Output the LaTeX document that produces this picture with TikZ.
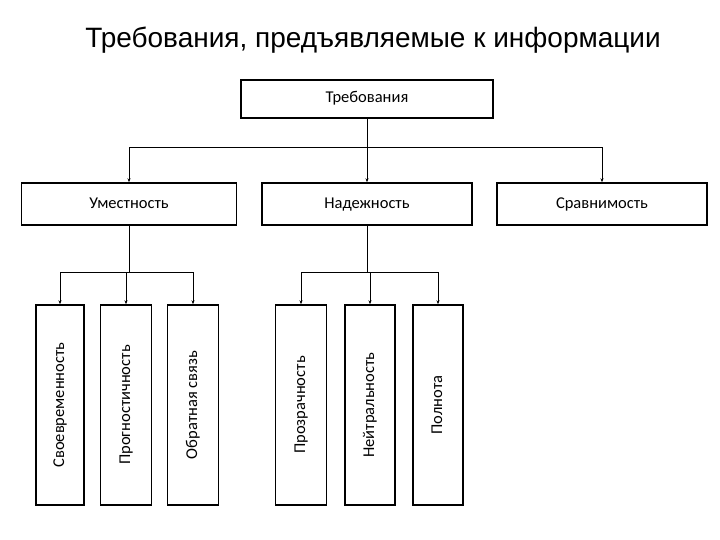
\documentclass[tikz,border=0pt]{standalone}
\usepackage{fontspec}
\usetikzlibrary{arrows.meta}
\setmainfont{Carlito}
\newfontfamily\titlefont{Liberation Sans}
\begin{document}
\begin{tikzpicture}[x=1pt,y=-1pt,
  bx/.style={draw,line width=1.4pt,inner sep=0pt},
  lbl/.style={font=\fontsize{16.5}{18}\selectfont,text height=11pt,text depth=3pt},
  con/.style={line width=0.8pt,-{Stealth[length=4pt,width=3pt]}}]
\useasboundingbox (0,0) rectangle (720,540);
\node[font=\titlefont\fontsize{28}{32}\selectfont] (title) at (373,40) {Требования, предъявляемые к информации};
\node[bx,minimum width=252pt,minimum height=38pt,lbl] (req) at (367,99) {Требования};
\node[bx,minimum width=215pt,minimum height=42pt,lbl] (u) at (129,204) {Уместность};
\node[bx,minimum width=210pt,minimum height=42pt,lbl] (n) at (367,204) {Надежность};
\node[bx,minimum width=210pt,minimum height=42pt,lbl] (s) at (602,204) {Сравнимость};
\foreach \nm/\x/\w/\t in {a/60/48/Своевременность,b/126/51/Прогностичность,c/193/51/Обратная связь,d/301/51/Прозрачность,e/370/50/Нейтральность,f/438/50/Полнота}{
  \node[bx,minimum width=\w pt,minimum height=200pt] (\nm) at (\x,405) {};
  \node[lbl,rotate=90] at (\x,405) {\t};
}
\coordinate (h1) at (367,147);
\draw[line width=0.8pt] (req.south) -- (h1);
\draw[con] (h1) -| (u.north);
\draw[con] (h1) -- (n.north);
\draw[con] (h1) -| (s.north);
\coordinate (h2) at (129,272);
\draw[line width=0.8pt] (u.south) -- (h2);
\draw[con] (h2) -| (a.north);
\draw[con] (h2) -| (b.north);
\draw[con] (h2) -| (c.north);
\coordinate (h3) at (367,272);
\draw[line width=0.8pt] (n.south) -- (h3);
\draw[con] (h3) -| (d.north);
\draw[con] (h3) -| (e.north);
\draw[con] (h3) -| (f.north);
\end{tikzpicture}
\end{document}
